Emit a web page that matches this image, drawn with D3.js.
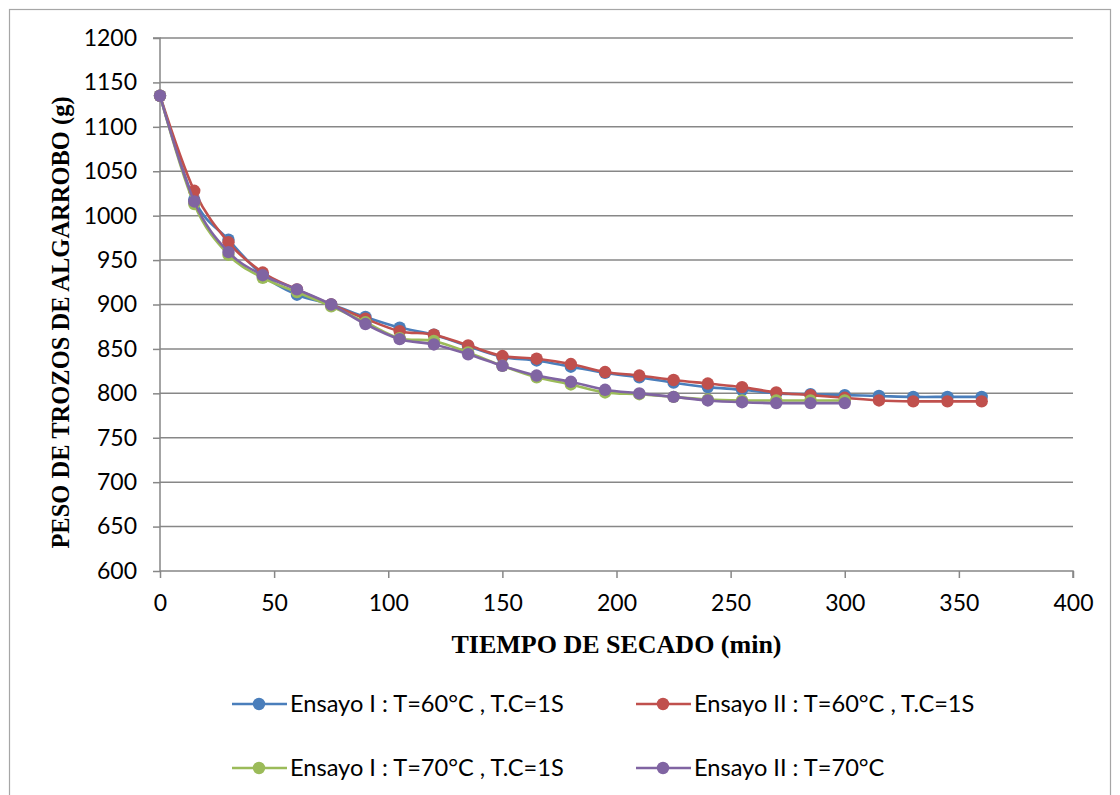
<!DOCTYPE html>
<html>
<head>
<meta charset="utf-8">
<script src="https://cdn.jsdelivr.net/npm/d3@7"></script>
<style>
  html, body { margin: 0; padding: 0; background: #fff; }
  svg { display: block; }
</style>
</head>
<body>
<svg id="chart" width="1120" height="795"></svg>
<script>
// ---------- data ----------
const timesLong = [0,15,30,45,60,75,90,105,120,135,150,165,180,195,210,225,240,255,270,285,300,315,330,345,360];
const timesShort = [0,15,30,45,60,75,90,105,120,135,150,165,180,195,210,225,240,255,270,285,300];

const ensayoI_60 = [1135,1018,973,933,911,900,886,874,866,853,841,837,830,823,818,812,807,804,800,799,798,797,796,796,796];
const ensayoII_60 = [1135,1028,970,936,917,900,884,870,866,854,842,839,833,824,820,815,811,807,801,798,795,792,791,791,791];
const ensayoI_70 = [1135,1013,956,930,914,898,880,862,859,846,831,818,810,801,799,796,793,792,792,792,792];
const ensayoII_70 = [1135,1016,959,933,917,900,878,861,855,844,831,820,813,804,800,796,792,790,789,789,789];

const seriesNames = ["Ensayo I : T=60°C , T.C=1S", "Ensayo II : T=60°C , T.C=1S", "Ensayo I : T=70°C , T.C=1S", "Ensayo II : T=70°C"];
const seriesColors = ["#4A7EBB", "#C0504D", "#9BBB59", "#8064A2"];

const xTicks = [0,50,100,150,200,250,300,350,400];
const yTicks = [600,650,700,750,800,850,900,950,1000,1050,1100,1150,1200];

const xTitle = "TIEMPO DE SECADO (min)";
const yTitle = "PESO DE TROZOS DE ALGARROBO (g)";

const series = [
  { name: seriesNames[0], color: seriesColors[0], t: timesLong, v: ensayoI_60 },
  { name: seriesNames[1], color: seriesColors[1], t: timesLong, v: ensayoII_60 },
  { name: seriesNames[2], color: seriesColors[2], t: timesShort, v: ensayoI_70 },
  { name: seriesNames[3], color: seriesColors[3], t: timesShort, v: ensayoII_70 }
];

// ---------- layout ----------
const svg = d3.select("#chart");
const plot = { left: 160, right: 1073, top: 38, bottom: 571 };

const x = d3.scaleLinear().domain([0, 400]).range([plot.left, plot.right]);
const y = d3.scaleLinear().domain([600, 1200]).range([plot.bottom, plot.top]);

const tickFont = "Lato, 'Open Sans', sans-serif";
const titleFont = "'Liberation Serif', 'Times New Roman', serif";

// outer chart border
svg.append("rect")
  .attr("x", 9.5).attr("y", 9.5)
  .attr("width", 1101).attr("height", 800)
  .attr("fill", "#fff")
  .attr("stroke", "#a6a6a6")
  .attr("stroke-width", 1.2);

// gridlines
svg.append("g")
  .selectAll("line")
  .data(yTicks.filter(d => d !== 600))
  .join("line")
  .attr("x1", plot.left).attr("x2", plot.right)
  .attr("y1", d => y(d)).attr("y2", d => y(d))
  .attr("stroke", "#878787")
  .attr("stroke-width", 1.5);

// y axis
const yAxis = d3.axisLeft(y).tickValues(yTicks).tickSize(7).tickPadding(16).tickFormat(d3.format("d"));
const gy = svg.append("g").attr("transform", `translate(${plot.left},0)`).call(yAxis);
gy.select(".domain").attr("stroke", "#878787").attr("stroke-width", 1.5).attr("d", `M-7,${plot.top}H0V${plot.bottom}`);
gy.selectAll(".tick line").attr("stroke", "#878787").attr("stroke-width", 1.5);
gy.selectAll(".tick text").attr("font-family", tickFont).attr("font-size", 23).attr("fill", "#000");

// x axis
const xAxis = d3.axisBottom(x).tickValues(xTicks).tickSize(7).tickPadding(17).tickFormat(d3.format("d"));
const gx = svg.append("g").attr("transform", `translate(0,${plot.bottom})`).call(xAxis);
gx.select(".domain").attr("stroke", "#878787").attr("stroke-width", 1.5).attr("d", `M${plot.left},0H${plot.right}V7`);
gx.selectAll(".tick line").attr("stroke", "#878787").attr("stroke-width", 1.5);
gx.selectAll(".tick text").attr("font-family", tickFont).attr("font-size", 23).attr("fill", "#000");

// axis titles
svg.append("text")
  .attr("x", (plot.left + plot.right) / 2 + 0)
  .attr("y", 653)
  .attr("text-anchor", "middle")
  .attr("font-family", titleFont)
  .attr("font-weight", "bold")
  .attr("font-size", 26)
  .text(xTitle);

svg.append("text")
  .attr("transform", `translate(69,${(plot.top + plot.bottom) / 2 + 18}) rotate(-90)`)
  .attr("text-anchor", "middle")
  .attr("font-family", titleFont)
  .attr("font-weight", "bold")
  .attr("font-size", 24.5)
  .text(yTitle);

// series
const line = d3.line()
  .x(d => x(d[0]))
  .y(d => y(d[1]))
  .curve(d3.curveCatmullRom.alpha(0));

const gs = svg.append("g");
series.forEach(s => {
  const pts = s.t.map((t, i) => [t, s.v[i]]);
  const g = gs.append("g");
  g.append("path")
    .datum(pts)
    .attr("d", line)
    .attr("fill", "none")
    .attr("stroke", s.color)
    .attr("stroke-width", 2.6);
  g.selectAll("circle")
    .data(pts)
    .join("circle")
    .attr("cx", d => x(d[0]))
    .attr("cy", d => y(d[1]))
    .attr("r", 6.2)
    .attr("fill", s.color);
});

// legend
const legendPos = [
  { lx: 232, ty: 704 },
  { lx: 636, ty: 704 },
  { lx: 232, ty: 768 },
  { lx: 636, ty: 768 }
];
const lg = svg.append("g");
series.forEach((s, i) => {
  const p = legendPos[i];
  const g = lg.append("g");
  g.append("line")
    .attr("x1", p.lx).attr("x2", p.lx + 55)
    .attr("y1", p.ty).attr("y2", p.ty)
    .attr("stroke", s.color).attr("stroke-width", 2.6);
  g.append("circle")
    .attr("cx", p.lx + 27).attr("cy", p.ty).attr("r", 6.2)
    .attr("fill", s.color);
  g.append("text")
    .attr("x", p.lx + 58).attr("y", p.ty)
    .attr("dy", "0.35em")
    .attr("font-family", tickFont)
    .attr("font-size", 23.6)
    .attr("fill", "#000")
    .text(s.name);
});
</script>
</body>
</html>
